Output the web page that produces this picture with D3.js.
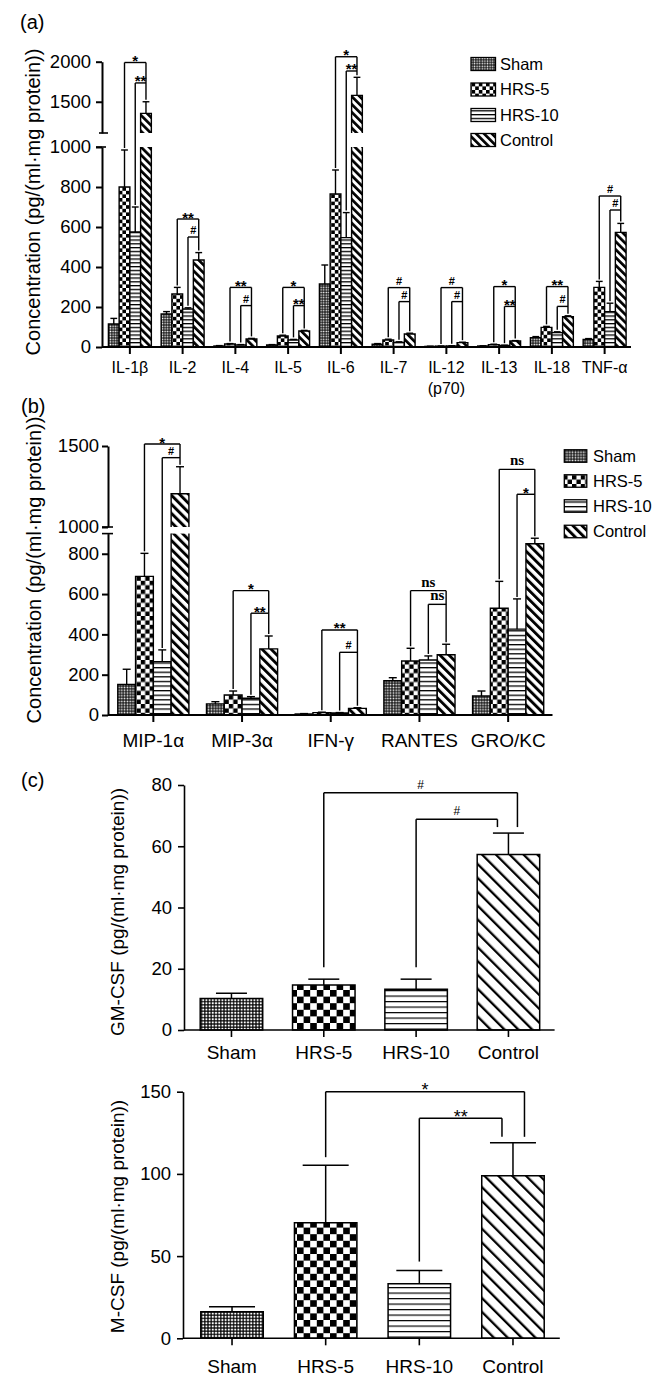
<!DOCTYPE html>
<html><head><meta charset="utf-8">
<script src="https://cdn.jsdelivr.net/npm/d3@7"></script>
<style>
body{margin:0;background:#fff}
svg{display:block}
text{font-family:"Liberation Sans",Arial,sans-serif;fill:#000}
</style>
</head><body>
<svg id="c" width="669" height="1386"></svg>
<script>
// ---------------- DATA ----------------
const seriesNames = ["Sham","HRS-5","HRS-10","Control"];

// Panel (a)
const catsA = ["IL-1β","IL-2","IL-4","IL-5","IL-6","IL-7","IL-12\n(p70)","IL-13","IL-18","TNF-α"];
const shamA      = [115, 165, 5, 10, 315, 14, 3, 5, 47, 38];
const shamAErr   = [28, 12, 2, 2, 95, 3, 1, 1, 5, 4];
const hrs5A      = [800, 265, 15, 55, 765, 35, 4, 12, 98, 298];
const hrs5AErr   = [185, 33, 2, 4, 120, 4, 1, 2, 5, 30];
const hrs10A     = [575, 190, 10, 35, 547, 23, 5, 8, 72, 177];
const hrs10AErr  = [125, 6, 2, 3, 125, 3, 1, 1, 4, 42];
const controlA   = [1355, 435, 40, 80, 1580, 65, 22, 30, 152, 573];
const controlAErr= [145, 37, 3, 3, 225, 4, 2, 2, 4, 45];
const ticksALow = [0,200,400,600,800,1000];
const ticksAUp = [1500,2000];
const sigAOuter = ["*","**","**","*","*","#","#","*","**","#"];
const sigAInner = ["**","#","#","**","**","#","#","**","#","#"];
const brAOuter = [1990, 640, 298, 298, 2062, 297, 297, 302, 302, 755];
const brAInner = [1735, 550, 207, 207, 1884, 227, 227, 203, 203, 685];

// Panel (b)
const catsB = ["MIP-1α","MIP-3α","IFN-γ","RANTES","GRO/KC"];
const shamB      = [152, 55, 5, 170, 94];
const shamBErr   = [75, 11, 2, 15, 25];
const hrs5B      = [688, 99, 12, 268, 530];
const hrs5BErr   = [114, 20, 2, 63, 133];
const hrs10B     = [265, 83, 10, 273, 426];
const hrs10BErr  = [58, 8, 2, 20, 150];
const controlB   = [1205, 328, 33, 299, 850];
const controlBErr= [167, 64, 3, 52, 27];
const ticksBLow = [0,200,400,600,800];
const ticksBUp = [1000,1500];
const sigBOuter = ["*","*","**","ns","ns"];
const sigBInner = ["#","**","#","ns","*"];
const brBOuter = [1512, 617, 422, 617, 1356];
const brBInner = [1428, 505, 311, 549, 1202];

// Panel (c)
const gmcsf    = [10.3, 14.7, 13.3, 57.3];
const gmcsfErr = [1.7, 1.9, 3.3, 7.0];
const ticksGM  = [0,20,40,60,80];
const sigGM    = ["#","#"];      // outer, inner
const brGM     = [77.5, 68.8];
const mcsf     = [16.2, 70.3, 33.2, 98.9];
const mcsfErr  = [3.0, 35.0, 8.0, 20.0];
const ticksM   = [0,50,100,150];
const sigM     = ["*","**"];
const brM      = [150, 133.8];

// ---------------- SETUP ----------------
const svg = d3.select("#c");
const defs = svg.append("defs");

function makePatterns(key, p){
  let s = defs.append("pattern").attr("id","sham"+key).attr("patternUnits","userSpaceOnUse")
    .attr("width",p.sh).attr("height",p.sh);
  s.append("rect").attr("width",p.sh).attr("height",p.sh).attr("fill","#000");
  s.append("rect").attr("x",(p.sh-p.shw)/2).attr("y",(p.sh-p.shw)/2).attr("width",p.shw).attr("height",p.shw).attr("fill","#fff");
  let k = defs.append("pattern").attr("id","hrs5"+key).attr("patternUnits","userSpaceOnUse")
    .attr("width",p.ck*2).attr("height",p.ck*2);
  k.append("rect").attr("width",p.ck*2).attr("height",p.ck*2).attr("fill","#fff");
  k.append("rect").attr("width",p.ck).attr("height",p.ck).attr("fill","#000");
  k.append("rect").attr("x",p.ck).attr("y",p.ck).attr("width",p.ck).attr("height",p.ck).attr("fill","#000");
  let h = defs.append("pattern").attr("id","hrs10"+key).attr("patternUnits","userSpaceOnUse")
    .attr("width",10).attr("height",p.hs);
  h.append("rect").attr("width",10).attr("height",p.hs).attr("fill","#fff");
  h.append("rect").attr("width",10).attr("height",p.hw).attr("fill","#000");
  let c = defs.append("pattern").attr("id","ctrl"+key).attr("patternUnits","userSpaceOnUse")
    .attr("width",p.ds).attr("height",p.ds).attr("patternTransform","rotate(-45)");
  c.append("rect").attr("width",p.ds).attr("height",p.ds).attr("fill","#fff");
  c.append("rect").attr("width",p.dw).attr("height",p.ds).attr("fill","#000");
}
makePatterns("A",{sh:2.6, shw:1.6, ck:3.6, hs:3.8, hw:1.3, ds:5.6, dw:2.7});
makePatterns("B",{sh:2.8, shw:1.7, ck:4.4, hs:4.6, hw:1.3, ds:6.4, dw:2.9});
makePatterns("C",{sh:3.2, shw:2.0, ck:6.6, hs:5.5, hw:1.2, ds:9.8, dw:2.3});
const patIds = ["sham","hrs5","hrs10","ctrl"];

function drawBar(g, x0, w, yTop, yBot, fill, sw, openTop, openBot){
  g.append("rect").attr("x",x0).attr("y",yTop).attr("width",w).attr("height",Math.max(0,yBot-yTop)).attr("fill",fill);
  const p = d3.path();
  if(openTop){ p.moveTo(x0,yTop); p.lineTo(x0,yBot); p.lineTo(x0+w,yBot); p.lineTo(x0+w,yTop); }
  else if(openBot){ p.moveTo(x0,yBot); p.lineTo(x0,yTop); p.lineTo(x0+w,yTop); p.lineTo(x0+w,yBot); }
  else { p.rect(x0,yTop,w,yBot-yTop); }
  g.append("path").attr("d",p.toString()).attr("fill","none").attr("stroke","#000").attr("stroke-width",sw);
}
function line(g,x1,y1,x2,y2,sw){
  g.append("line").attr("x1",x1).attr("y1",y1).attr("x2",x2).attr("y2",y2)
   .attr("stroke","#000").attr("stroke-width",sw).attr("stroke-linecap","butt");
}
function sig(g, label, x, y, mode){
  const t = g.append("text").attr("x",x).attr("text-anchor","middle").text(label);
  if(label==="ns"){
    t.attr("y",y-4).attr("font-size",15).attr("font-weight","bold").style("font-family",'"Liberation Serif","Times New Roman",serif');
  } else if(label==="#"){
    if(mode==="c") t.attr("y",y-4).attr("font-size",12);
    else t.attr("y",y-3).attr("font-size",11).attr("font-weight","bold");
  } else {
    if(mode==="c") t.attr("y",y+4.5).attr("font-size",18);
    else t.attr("y",y+3.5).attr("font-size",15).attr("font-weight","bold");
  }
}
function styleAxis(sel, fs, sw){
  sel.attr("font-family",'"Liberation Sans",Arial,sans-serif').attr("font-size",fs).attr("color","#000");
  sel.selectAll("line,path").attr("stroke-width",sw).attr("stroke","#000");
}

// ---------------- BROKEN-AXIS GROUPED PANEL ----------------
function groupedPanel(cfg){
  const g = svg.append("g");
  const {cats, vals, errs, x, lower, upper, lowMax, upMin, key, capHalf, axisX, baseY} = cfg;
  const yP = v => (v <= lowMax ? lower(v) : upper(Math.max(v, upMin)));
  const sub = d3.scaleBand().domain(seriesNames).range([0, x.bandwidth()]);
  const w = sub.bandwidth();
  const tops = [];
  cats.forEach((c,i)=>{
    tops[i] = [];
    seriesNames.forEach((s,j)=>{
      const v = vals[j][i], e = errs[j][i];
      const x0 = x(c)+sub(s), cx = x0 + w/2;
      const fill = `url(#${patIds[j]}${key})`;
      if(v > lowMax){
        drawBar(g, x0, w, lower(lowMax), lower(0), fill, 1.4, true, false);
        drawBar(g, x0, w, upper(v), upper(upMin), fill, 1.4, false, true);
      } else {
        drawBar(g, x0, w, lower(v), lower(0), fill, 1.4, false, false);
      }
      const ye = yP(v+e);
      line(g, cx, yP(v), cx, ye, 1.4);
      line(g, cx-capHalf, ye, cx+capHalf, ye, 1.4);
      tops[i][j] = {cx, ye};
    });
  });
  const aL = g.append("g").attr("transform",`translate(${axisX},0)`)
    .call(d3.axisLeft(lower).tickValues(cfg.ticksLow).tickSize(6).tickSizeOuter(0).tickPadding(cfg.pad).tickFormat(d3.format("d")));
  styleAxis(aL, 18.5, 2);
  const aU = g.append("g").attr("transform",`translate(${axisX},0)`)
    .call(d3.axisLeft(upper).tickValues(cfg.ticksUp).tickSize(6).tickSizeOuter(0).tickPadding(cfg.pad).tickFormat(d3.format("d")));
  styleAxis(aU, 18.5, 2);
  line(g, axisX-cfg.brkL[0], upper(upMin), axisX+cfg.brkR[0], upper(upMin), 1.6);
  line(g, axisX-cfg.brkL[1], lower(lowMax), axisX+cfg.brkR[1], lower(lowMax), 1.6);
  line(g, axisX, baseY, cfg.xEnd, baseY, 2);
  cats.forEach((c)=>{
    const cx = x(c)+x.bandwidth()/2;
    line(g, cx, baseY, cx, baseY+7, 2);
    const lines = c.split("\n");
    lines.forEach((ln,k)=>{
      g.append("text").attr("x",cx).attr("y",cfg.labelY + k*cfg.labelLH).attr("text-anchor","middle")
        .attr("font-size",cfg.labelFS).text(ln);
    });
  });
  cats.forEach((c,i)=>{
    const t = tops[i];
    const yo = yP(cfg.brOuter[i]), yi = yP(cfg.brInner[i]);
    line(g, t[1].cx, t[1].ye-2, t[1].cx, yo, 1.4);
    line(g, t[1].cx, yo, t[3].cx, yo, 1.4);
    line(g, t[3].cx, yo, t[3].cx, t[3].ye-2, 1.4);
    line(g, t[2].cx, t[2].ye-2, t[2].cx, yi, 1.4);
    line(g, t[2].cx, yi, t[3].cx, yi, 1.4);
    sig(g, cfg.sigOuter[i], (t[1].cx+t[3].cx)/2, yo, "ab");
    sig(g, cfg.sigInner[i], (t[2].cx+t[3].cx)/2, yi, "ab");
  });
  return g;
}

function legend(key, x, ys, w, h, tx, fs){
  const g = svg.append("g");
  seriesNames.forEach((s,j)=>{
    g.append("rect").attr("x",x).attr("y",ys[j]-h/2).attr("width",w).attr("height",h)
      .attr("fill",`url(#${patIds[j]}${key})`).attr("stroke","#000").attr("stroke-width",1.3);
    g.append("text").attr("x",tx).attr("y",ys[j]+fs*0.36).attr("font-size",fs).text(s);
  });
}
function yTitle(text, x, y, fs){
  svg.append("text").attr("transform",`translate(${x},${y}) rotate(-90)`).attr("text-anchor","middle")
    .attr("dy","0.35em").attr("font-size",fs).text(text);
}

// ---------------- PANEL (a) ----------------
const xA = d3.scaleBand().domain(catsA).range([103.5, 631]).paddingInner(0.186).paddingOuter(0.093);
const lowerA = d3.scaleLinear().domain([0,1000]).range([347,147]);
const upperA = d3.scaleLinear().domain([1110,2000]).range([133,61.7]);
groupedPanel({cats:catsA, vals:[shamA,hrs5A,hrs10A,controlA], errs:[shamAErr,hrs5AErr,hrs10AErr,controlAErr],
  x:xA, lower:lowerA, upper:upperA, lowMax:1000, upMin:1110, key:"A", capHalf:3.4, axisX:102, baseY:347,
  ticksLow:ticksALow, ticksUp:ticksAUp, pad:5, brkL:[3,6], brkR:[6,4], xEnd:631,
  labelY:373, labelLH:21, labelFS:16, brOuter:brAOuter, brInner:brAInner, sigOuter:sigAOuter, sigInner:sigAInner});
legend("A", 471, [64, 89.5, 115, 140], 24.5, 13, 500, 16.5);
yTitle("Concentration (pg/(ml·mg protein))", 32.5, 202, 20);
svg.append("text").attr("x",20).attr("y",29).attr("font-size",20).text("(a)");

// ---------------- PANEL (b) ----------------
const xB = d3.scaleBand().domain(catsB).range([109, 552.5]).paddingInner(0.198).paddingOuter(0.099);
const lowerB = d3.scaleLinear().domain([0,900]).range([715,533.6]);
const upperB = d3.scaleLinear().domain([1000,1500]).range([527,446]);
groupedPanel({cats:catsB, vals:[shamB,hrs5B,hrs10B,controlB], errs:[shamBErr,hrs5BErr,hrs10BErr,controlBErr],
  x:xB, lower:lowerB, upper:upperB, lowMax:900, upMin:1000, key:"B", capHalf:4, axisX:108, baseY:715,
  ticksLow:ticksBLow, ticksUp:ticksBUp, pad:3, brkL:[6,6], brkR:[5,5], xEnd:552.5,
  labelY:747, labelLH:21, labelFS:19, brOuter:brBOuter, brInner:brBInner, sigOuter:sigBOuter, sigInner:sigBInner});
legend("B", 564.3, [456, 481, 506, 531.5], 22.5, 12.5, 593, 16.5);
yTitle("Concentration (pg/(ml·mg protein))", 34, 570, 20);
svg.append("text").attr("x",21).attr("y",413).attr("font-size",20).text("(b)");

// ---------------- PANEL (c) ----------------
function simplePanel(cfg){
  const g = svg.append("g");
  const {vals, errs, x, y, axisX, capHalf} = cfg;
  const w = x.bandwidth();
  const tops = [];
  seriesNames.forEach((s,j)=>{
    const x0 = x(s), cx = x0 + w/2;
    drawBar(g, x0, w, y(vals[j]), y(0), `url(#${patIds[j]}C)`, 1.5, false, false);
    const ye = y(vals[j]+errs[j]);
    line(g, cx, y(vals[j]), cx, ye, 1.5);
    line(g, cx-capHalf, ye, cx+capHalf, ye, 1.5);
    tops[j] = {cx, ye};
  });
  const ay = g.append("g").attr("transform",`translate(${axisX},0)`)
    .call(d3.axisLeft(y).tickValues(cfg.ticks).tickSize(6).tickSizeOuter(0).tickPadding(6).tickFormat(d3.format("d")));
  styleAxis(ay, 18.5, 1.6);
  const y0 = y(0);
  line(g, axisX, y0, cfg.xEnd, y0, 1.6);
  seriesNames.forEach(s=>{
    const cx = x(s)+w/2;
    line(g, cx, y0, cx, y0+7, 1.6);
    g.append("text").attr("x",cx).attr("y",cfg.labelY).attr("text-anchor","middle").attr("font-size",19).text(s);
  });
  const yo = y(cfg.br[0]), yi = y(cfg.br[1]);
  const rO = tops[3].cx + cfg.rOff[0], rI = tops[3].cx + cfg.rOff[1];
  line(g, tops[1].cx, tops[1].ye-cfg.gapL[0], tops[1].cx, yo, 1.5);
  line(g, tops[1].cx, yo, rO, yo, 1.5);
  line(g, rO, yo, rO, tops[3].ye-6, 1.5);
  line(g, tops[2].cx, tops[2].ye-cfg.gapL[1], tops[2].cx, yi, 1.5);
  line(g, tops[2].cx, yi, rI, yi, 1.5);
  line(g, rI, yi, rI, tops[3].ye-6, 1.5);
  sig(g, cfg.sig[0], (tops[1].cx+rO)/2, yo, "c");
  sig(g, cfg.sig[1], (tops[2].cx+rI)/2, yi, "c");
}
const xGM = d3.scaleBand().domain(seriesNames).range([185.3, 554.6]).paddingInner(0.323).paddingOuter(0.1615);
const yGM = d3.scaleLinear().domain([0,80]).range([1030,785]);
simplePanel({vals:gmcsf, errs:gmcsfErr, x:xGM, y:yGM, axisX:184, capHalf:15.5, ticks:ticksGM, xEnd:554.6,
  labelY:1059, br:brGM, sig:sigGM, rOff:[9,-11], gapL:[12,12]});
yTitle("GM-CSF (pg/(ml·mg protein))", 117, 912, 19);
svg.append("text").attr("x",21).attr("y",787).attr("font-size",20).text("(c)");

const xM = d3.scaleBand().domain(seriesNames).range([185.2, 559.8]).paddingInner(0.333).paddingOuter(0.1665);
const yM = d3.scaleLinear().domain([0,150]).range([1338.3,1091.7]);
simplePanel({vals:mcsf, errs:mcsfErr, x:xM, y:yM, axisX:183, capHalf:23, ticks:ticksM, xEnd:559.8,
  labelY:1373, br:brM, sig:sigM, rOff:[11.5,-11], gapL:[8,9]});
yTitle("M-CSF (pg/(ml·mg protein))", 117, 1216.5, 19);
</script>
</body></html>
